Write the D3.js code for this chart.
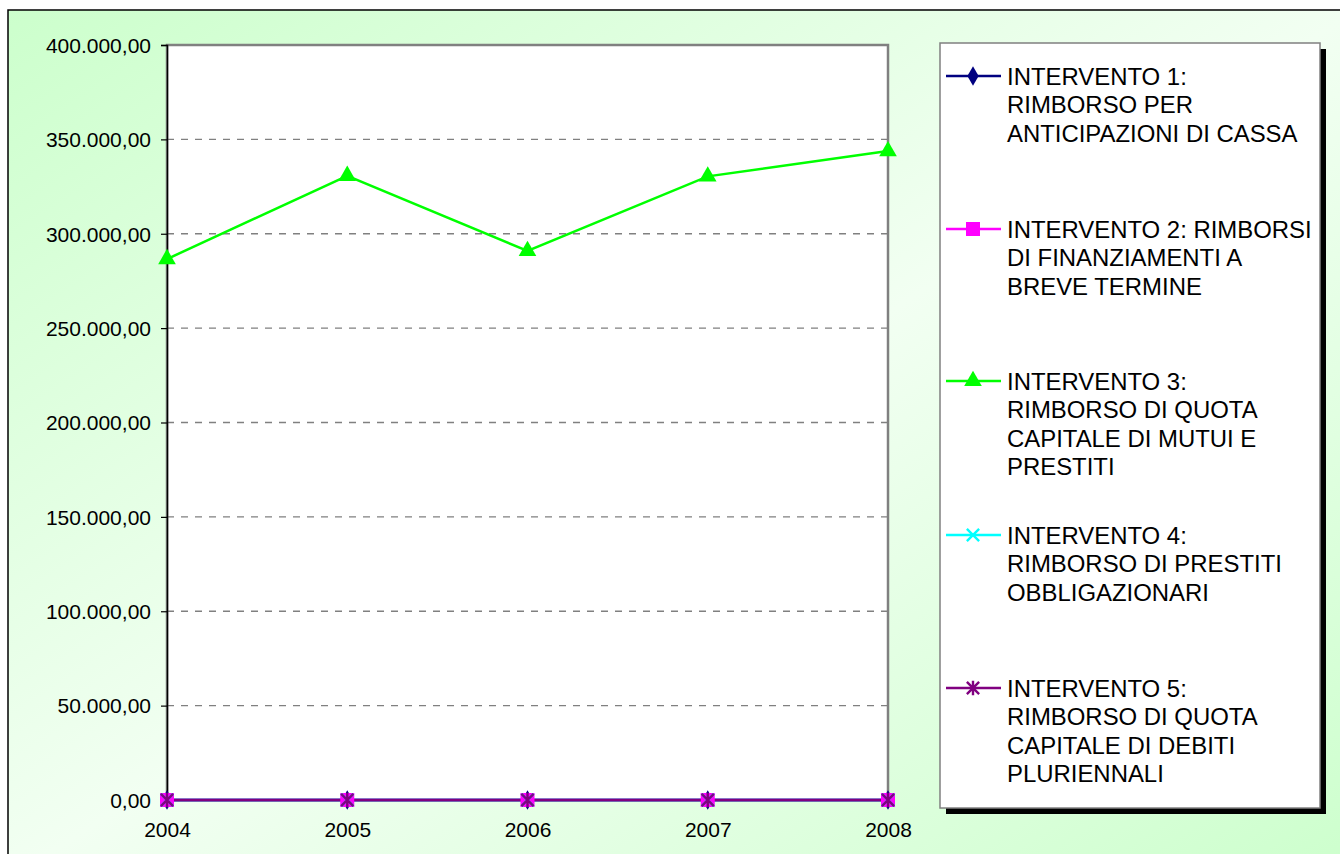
<!DOCTYPE html>
<html>
<head>
<meta charset="utf-8">
<script src="https://cdn.jsdelivr.net/npm/d3@7"></script>
<style>
  html, body { margin: 0; padding: 0; background: #fff; overflow: hidden; }
  text { font-family: "Liberation Sans", Arial, sans-serif; fill: #000; }
</style>
</head>
<body>
<div id="chart"></div>
<script>
// categories and values
const years = ["2004", "2005", "2006", "2007", "2008"];
const intervento1 = [0, 0, 0, 0, 0];
const intervento2 = [0, 0, 0, 0, 0];
const intervento3 = [286600, 330700, 290900, 330400, 343800];
const intervento4 = [0, 0, 0, 0, 0];
const intervento5 = [0, 0, 0, 0, 0];
const yTicks = [0, 50000, 100000, 150000, 200000, 250000, 300000, 350000, 400000];
const seriesNames = [
  ["INTERVENTO 1:", "RIMBORSO PER", "ANTICIPAZIONI DI CASSA"],
  ["INTERVENTO 2: RIMBORSI", "DI FINANZIAMENTI A", "BREVE TERMINE"],
  ["INTERVENTO 3:", "RIMBORSO DI QUOTA", "CAPITALE DI MUTUI E", "PRESTITI"],
  ["INTERVENTO 4:", "RIMBORSO DI PRESTITI", "OBBLIGAZIONARI"],
  ["INTERVENTO 5:", "RIMBORSO DI QUOTA", "CAPITALE DI DEBITI", "PLURIENNALI"]
];

// simboli stile Excel: X e asterisco (X + linea verticale)
const symbolX = {
  draw(ctx, size) {
    const r = Math.sqrt(size) / 2;
    ctx.moveTo(-r, -r); ctx.lineTo(r, r);
    ctx.moveTo(-r, r); ctx.lineTo(r, -r);
  }
};
const symbolStar = {
  draw(ctx, size) {
    const r = Math.sqrt(size) / 2;
    ctx.moveTo(-r, -r); ctx.lineTo(r, r);
    ctx.moveTo(-r, r); ctx.lineTo(r, -r);
    ctx.moveTo(0, -r * 1.2); ctx.lineTo(0, r * 1.2);
  }
};

const series = [
  {name: seriesNames[0], values: intervento1, color: "#000080", symbol: d3.symbolDiamond, size: 110, fill: true},
  {name: seriesNames[1], values: intervento2, color: "#ff00ff", symbol: d3.symbolSquare, size: 196, fill: true},
  {name: seriesNames[2], values: intervento3, color: "#00ff00", symbol: d3.symbolTriangle, size: 135, fill: true},
  {name: seriesNames[3], values: intervento4, color: "#00ffff", symbol: symbolX, size: 150, fill: false},
  {name: seriesNames[4], values: intervento5, color: "#800080", symbol: symbolStar, size: 150, fill: false}
];

const width = 1340;
const height = 854;
const plot = {left: 167, right: 888, top: 45, bottom: 800};

const svg = d3.select("#chart")
  .append("svg")
  .attr("width", width)
  .attr("height", height);

// sfondo sfumato
const defs = svg.append("defs");
const grad = defs.append("linearGradient")
  .attr("id", "bg")
  .attr("x1", 0).attr("y1", 0).attr("x2", 1).attr("y2", 1);
grad.append("stop").attr("offset", "0%").attr("stop-color", "#ccffcc");
grad.append("stop").attr("offset", "50%").attr("stop-color", "#f2fff2");
grad.append("stop").attr("offset", "100%").attr("stop-color", "#ccffcc");

svg.append("rect")
  .attr("x", 8).attr("y", 10)
  .attr("width", 1350).attr("height", 870)
  .attr("fill", "url(#bg)")
  .attr("stroke", "#000")
  .attr("stroke-width", 1.5);

// scale
const x = d3.scalePoint()
  .domain(years)
  .range([plot.left, plot.right]);

const y = d3.scaleLinear()
  .domain([0, 400000])
  .range([plot.bottom, plot.top]);

// area del grafico
svg.append("rect")
  .attr("x", plot.left).attr("y", plot.top)
  .attr("width", plot.right - plot.left)
  .attr("height", plot.bottom - plot.top)
  .attr("fill", "#fff")
  .attr("stroke", "#808080")
  .attr("stroke-width", 2.5);

// griglia
svg.append("g")
  .selectAll("line")
  .data(yTicks.filter(d => d > 0 && d < 400000))
  .join("line")
  .attr("x1", plot.left).attr("x2", plot.right)
  .attr("y1", d => y(d)).attr("y2", d => y(d))
  .attr("stroke", "#808080")
  .attr("stroke-width", 1.3)
  .attr("stroke-dasharray", "7,7");

const fmt = d3.formatLocale({decimal: ",", thousands: ".", grouping: [3], currency: ["", "€"]}).format(",.2f");

// asse y
const yAxis = svg.append("g")
  .attr("transform", `translate(${plot.left},0)`)
  .call(d3.axisLeft(y).tickValues(yTicks).tickFormat(fmt).tickSize(6).tickPadding(10));
yAxis.select(".domain").attr("stroke", "#000").attr("stroke-width", 1.5);
yAxis.selectAll(".tick line").attr("stroke", "#000").attr("stroke-width", 1.2);
yAxis.selectAll(".tick text")
  .attr("font-size", 21)
  .attr("font-family", "'Liberation Sans', Arial, sans-serif")
  .attr("dy", "0.35em");

// asse x
const xAxis = svg.append("g")
  .attr("transform", `translate(0,${plot.bottom})`)
  .call(d3.axisBottom(x).tickSize(0).tickPadding(22));
xAxis.select(".domain").attr("stroke", "#000").attr("stroke-width", 1.5);
xAxis.selectAll(".tick text")
  .attr("font-size", 21)
  .attr("font-family", "'Liberation Sans', Arial, sans-serif");

// linee e marcatori
const line = d3.line()
  .x((d, i) => x(years[i]))
  .y(d => y(d));

series.forEach(s => {
  svg.append("path")
    .datum(s.values)
    .attr("d", line)
    .attr("fill", "none")
    .attr("stroke", s.color)
    .attr("stroke-width", 2.5);
});

series.forEach(s => {
  svg.append("g")
    .selectAll("path")
    .data(s.values)
    .join("path")
    .attr("transform", (d, i) => `translate(${x(years[i])},${y(d)})`)
    .attr("d", d3.symbol(s.symbol, s.size))
    .attr("fill", s.fill ? s.color : "none")
    .attr("stroke", s.color)
    .attr("stroke-width", s.fill ? 0 : 2.4);
});

// legenda
const legend = {x: 940, y: 43, w: 380, h: 765};
svg.append("rect")
  .attr("x", legend.x + 6).attr("y", legend.y + 6)
  .attr("width", legend.w).attr("height", legend.h)
  .attr("fill", "#000");
svg.append("rect")
  .attr("x", legend.x).attr("y", legend.y)
  .attr("width", legend.w).attr("height", legend.h)
  .attr("fill", "#fff")
  .attr("stroke", "#808080")
  .attr("stroke-width", 1.5);

const entryY = [76, 229, 381, 535, 688];
const lineH = 28.5;

series.forEach((s, i) => {
  const g = svg.append("g").attr("transform", `translate(0,${entryY[i]})`);
  g.append("line")
    .attr("x1", 946).attr("x2", 1001)
    .attr("y1", 0).attr("y2", 0)
    .attr("stroke", s.color)
    .attr("stroke-width", 2.5);
  g.append("path")
    .attr("transform", "translate(973,0)")
    .attr("d", d3.symbol(s.symbol, s.size))
    .attr("fill", s.fill ? s.color : "none")
    .attr("stroke", s.color)
    .attr("stroke-width", s.fill ? 0 : 2.4);
  s.name.forEach((t, k) => {
    g.append("text")
      .attr("transform", `translate(1007,${k * lineH + 8.5}) scale(1.04,1)`)
      .attr("font-size", 23)
      .text(t);
  });
});
</script>
</body>
</html>
